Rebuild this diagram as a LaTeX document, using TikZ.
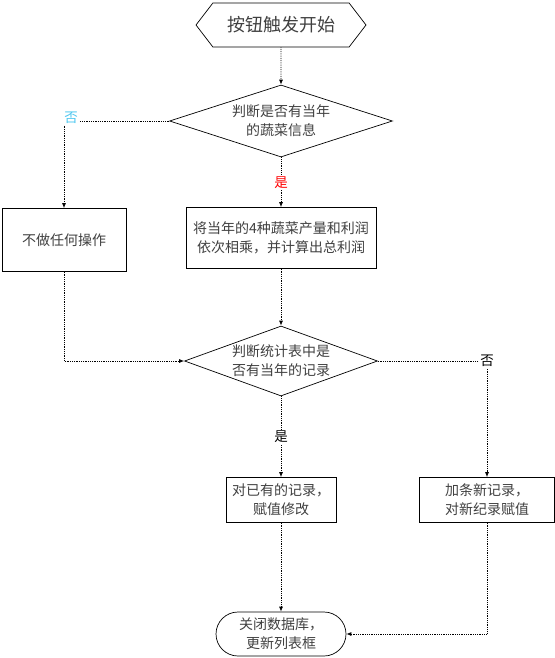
\documentclass[tikz,border=0pt]{standalone}
\usepackage{fontspec}
\newfontfamily\cjk{Noto Sans CJK SC}
\usetikzlibrary{shapes.geometric,shapes.misc,shapes.symbols,arrows.meta}
\definecolor{notag}{RGB}{80,200,240}
\tikzset{
  flow/.style={draw=black,densely dotted,line width=0.8pt,-{Latex[length=5pt,width=4pt]}},
  txt/.style={font=\cjk\fontsize{14}{19}\selectfont,text=black!75,align=center},
  box/.style={txt,draw,line width=0.7pt,inner sep=0pt},
  decide/.style={txt,draw,diamond,inner sep=0pt,line width=0.7pt},
  tag/.style={font=\cjk\fontsize{13.5}{15}\selectfont,fill=white,inner sep=1pt},
}
\begin{document}
\begin{tikzpicture}[x=1pt,y=-1pt]
\useasboundingbox (0,0) rectangle (554,658);
\node[box,signal,signal to=west and east,signal pointer angle=105,minimum width=170pt,minimum height=44pt,font=\cjk\fontsize{18}{22}\selectfont] (start) at (281,25) {按钮触发开始};
\node[decide,aspect=3.1,minimum width=223pt,minimum height=72pt] (q1) at (281,121) {判断是否有当年\\的蔬菜信息};
\node[box,minimum width=124pt,minimum height=63pt] (none) at (64,240) {不做任何操作};
\node[box,minimum width=190pt,minimum height=61pt] (calc) at (281,238) {将当年的4种蔬菜产量和利润\\依次相乘，并计算出总利润};
\node[decide,aspect=2.74,minimum width=193pt,minimum height=70pt] (q2) at (281,361) {判断统计表中是\\否有当年的记录};
\node[box,minimum width=110pt,minimum height=45pt] (edit) at (281,500) {对已有的记录，\\赋值修改};
\node[box,minimum width=135pt,minimum height=45pt] (add) at (487,500) {加条新记录，\\对新纪录赋值};
\node[box,rounded rectangle,minimum width=130pt,minimum height=44pt] (end) at (281,634) {关闭数据库，\\更新列表框};

\draw[flow] (start) -- (q1);
\draw[flow] (q1.west) -| node[pos=0.5,tag,text=notag,xshift=7pt,yshift=3pt] {否} (none.north);
\draw[flow] (q1) -- node[tag,text=red] {是} (calc);
\draw[flow] (calc) -- (q2);
\draw[flow] (none.south) |- (q2.west);
\draw[flow] (q2.east) -| node[pos=0.5,tag] {否} (add.north);
\draw[flow] (q2) -- node[tag] {是} (edit);
\draw[flow] (edit) -- (end);
\draw[flow] (add.south) |- (end.east);
\end{tikzpicture}
\end{document}
